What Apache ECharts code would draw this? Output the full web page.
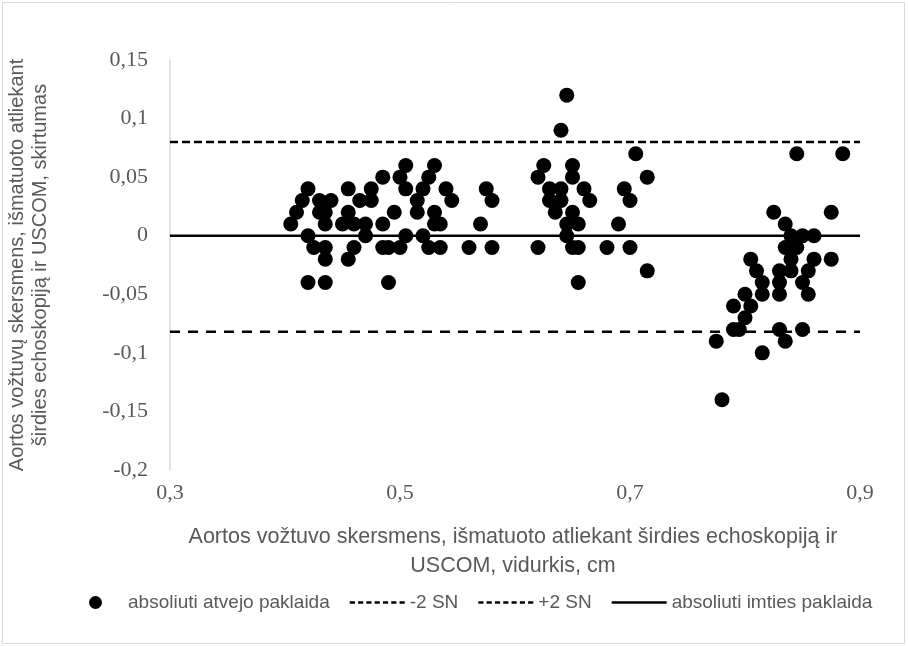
<!DOCTYPE html>
<html><head><meta charset="utf-8">
<script src="https://cdn.jsdelivr.net/npm/echarts@6/dist/echarts.min.js"></script>
<style>html,body{margin:0;padding:0;background:#fff}#c{width:908px;height:647px}</style>
</head><body><div id="c"></div>
<script>
const avgX = [
  0.645,
  0.64,
  0.705,0.845,0.885,
  0.505,0.53,0.625,0.65,
  0.485,0.50,0.525,0.62,0.65,0.715,
  0.42,0.455,0.475,0.505,0.52,0.54,0.575,0.63,0.64,0.66,0.695,
  0.415,0.43,0.44,0.465,0.475,0.515,0.545,0.58,0.63,0.64,0.665,0.70,
  0.41,0.43,0.435,0.455,0.495,0.515,0.53,0.635,0.65,0.825,0.875,
  0.405,0.435,0.45,0.46,0.47,0.485,0.53,0.535,0.57,0.645,0.655,0.69,0.835,
  0.42,0.47,0.505,0.52,0.645,0.84,0.85,0.86,
  0.425,0.435,0.46,0.485,0.49,0.50,0.525,0.535,0.56,0.58,0.62,0.65,0.655,0.68,0.70,0.835,0.845,
  0.435,0.455,0.805,0.84,0.86,0.875,
  0.715,0.81,0.83,0.84,0.855,
  0.42,0.435,0.49,0.655,0.815,0.83,0.85,
  0.80,0.815,0.83,0.855,
  0.79,0.805,
  0.80,
  0.79,0.795,0.83,0.85,
  0.775,0.835,
  0.815,
  0.78];
const diffY = [
  0.12,
  0.09,
  0.07,0.07,0.07,
  0.06,0.06,0.06,0.06,
  0.05,0.05,0.05,0.05,0.05,0.05,
  0.04,0.04,0.04,0.04,0.04,0.04,0.04,0.04,0.04,0.04,0.04,
  0.03,0.03,0.03,0.03,0.03,0.03,0.03,0.03,0.03,0.03,0.03,0.03,
  0.02,0.02,0.02,0.02,0.02,0.02,0.02,0.02,0.02,0.02,0.02,
  0.01,0.01,0.01,0.01,0.01,0.01,0.01,0.01,0.01,0.01,0.01,0.01,0.01,
  0,0,0,0,0,0,0,0,
  -0.01,-0.01,-0.01,-0.01,-0.01,-0.01,-0.01,-0.01,-0.01,-0.01,-0.01,-0.01,-0.01,-0.01,-0.01,-0.01,-0.01,
  -0.02,-0.02,-0.02,-0.02,-0.02,-0.02,
  -0.03,-0.03,-0.03,-0.03,-0.03,
  -0.04,-0.04,-0.04,-0.04,-0.04,-0.04,-0.04,
  -0.05,-0.05,-0.05,-0.05,
  -0.06,-0.06,
  -0.07,
  -0.08,-0.08,-0.08,-0.08,
  -0.09,-0.09,
  -0.10,
  -0.14];
const lineX = [0.3, 0.9];
const upperLimit = 0.08;   // +2 SN
const lowerLimit = -0.082; // -2 SN
const meanDiff = 0;        // absoliuti imties paklaida
const xTickLabels = ['0,3','0,5','0,7','0,9'];
const seriesNames = ['absoliuti atvejo paklaida','-2 SN','+2 SN','absoliuti imties paklaida'];

const sans = 'Liberation Sans, Arial, sans-serif';
const serif = 'Liberation Serif, Times New Roman, serif';
const grey = '#595959';

let dashPath = 'path://';
for (let i = 0; i < 7; i++) dashPath += 'M' + (i*8) + ',0 h5 v2.5 h-5 Z ';
const solidPath = 'path://M0,0 h53 v2.5 h-53 Z';

const chart = echarts.init(document.getElementById('c'), null, {renderer:'canvas'});
const pts = avgX.map((x,i)=>[x, diffY[i]]);
const hline = v => lineX.map(x=>[x, v]);

chart.setOption({
  animation:false,
  backgroundColor:'#fff',
  grid:{left:170, right:48, top:60, bottom:177},
  xAxis:{
    type:'value', min:0.3, max:0.9, interval:0.1,
    axisLine:{show:false}, axisTick:{show:false}, splitLine:{show:false},
    axisLabel:{
      margin:12, color:grey, fontFamily:serif, fontSize:22,
      showMinLabel:true, showMaxLabel:true,
      formatter:v=>{const r=Math.round(v*10); const s='0,'+r; return xTickLabels.includes(s)?s:'';}
    }
  },
  yAxis:{
    type:'value', min:-0.2, max:0.15, interval:0.05,
    axisLine:{show:true, onZero:false, lineStyle:{color:'#d9d9d9', width:1.5}},
    axisTick:{show:false}, splitLine:{show:false},
    axisLabel:{
      margin:22, color:grey, fontFamily:serif, fontSize:22,
      formatter:v=>String(Math.round(v*100)/100).replace('.',',')
    }
  },
  legend:{
    bottom:30, left:84, itemWidth:55, itemHeight:13, itemGap:20,
    textStyle:{color:grey, fontFamily:sans, fontSize:19},
    data:[
      {name:seriesNames[0], icon:'circle', itemStyle:{color:'#000'}},
      {name:seriesNames[1], icon:dashPath, itemStyle:{color:'#000', borderWidth:0}},
      {name:seriesNames[2], icon:dashPath, itemStyle:{color:'#000', borderWidth:0}},
      {name:seriesNames[3], icon:solidPath, itemStyle:{color:'#000', borderWidth:0}}
    ]
  },
  graphic:[
    {type:'rect', silent:true, shape:{x:2.5,y:2.5,width:902,height:641}, style:{fill:'none', stroke:'#d9d9d9', lineWidth:1}},
    {type:'text', silent:true, x:513, y:552, style:{
      text:'Aortos vožtuvo skersmens, išmatuoto atliekant širdies echoskopiją ir\nUSCOM, vidurkis, cm',
      align:'center', verticalAlign:'middle', lineHeight:29, fill:grey, font:'21.5px '+sans}},
    {type:'text', silent:true, x:29, y:265, rotation:Math.PI/2, style:{
      text:'Aortos vožtuvų skersmens, išmatuoto atliekant\nširdies echoskopiją ir USCOM, skirtumas',
      align:'center', verticalAlign:'middle', lineHeight:23, fill:grey, font:'20px '+sans}}
  ],
  series:[
    {name:seriesNames[0], type:'scatter', data:pts, symbol:'circle', symbolSize:15, itemStyle:{color:'#000', opacity:1}, z:5},
    {name:seriesNames[1], type:'line', data:hline(lowerLimit), symbol:'none', lineStyle:{color:'#000', width:2.3, type:[10,8]}, itemStyle:{color:'#000'}, z:3},
    {name:seriesNames[2], type:'line', data:hline(upperLimit), symbol:'none', lineStyle:{color:'#000', width:2.3, type:[8,4]}, itemStyle:{color:'#000'}, z:3},
    {name:seriesNames[3], type:'line', data:hline(meanDiff), symbol:'none', lineStyle:{color:'#000', width:2.5}, itemStyle:{color:'#000'}, z:3}
  ]
});
</script></body></html>
